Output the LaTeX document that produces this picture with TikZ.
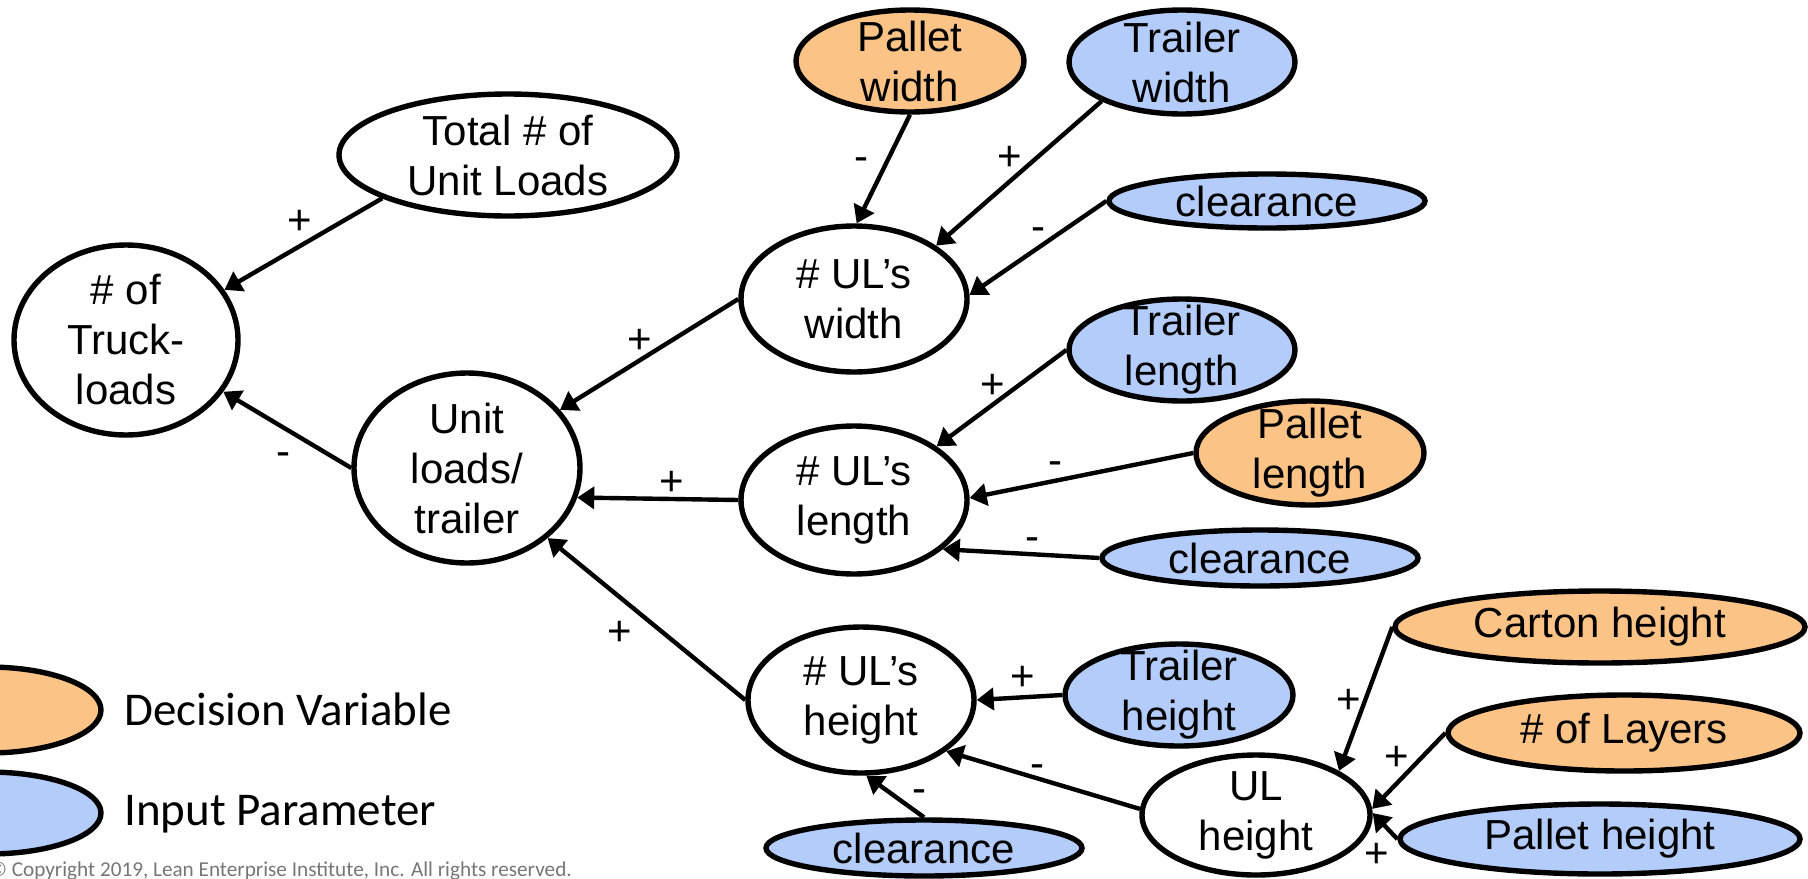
\documentclass[tikz,border=0pt]{standalone}
\usepackage{fontspec}
\setmainfont{Liberation Sans}
\newfontfamily\legendfont{Carlito}
\usetikzlibrary{shapes.geometric,arrows.meta}

\definecolor{dvfill}{RGB}{252,195,134}
\definecolor{ipfill}{RGB}{180,204,250}
\definecolor{notegray}{RGB}{118,118,118}

\tikzset{
  var/.style={ellipse, draw=black, line width=2.7pt, inner sep=0pt, fill=white},
  dv/.style={var, fill=dvfill},
  ip/.style={var, fill=ipfill},
  sz/.style 2 args={minimum width=#1pt, minimum height=#2pt},
  lbl/.style={align=center, font=\fontsize{21}{25}\selectfont, inner sep=0pt},
  link/.style={line width=2.2pt, -{Triangle[length=8.5pt,width=11pt]}},
  sign/.style={font=\fontsize{21}{25}\selectfont, inner sep=0pt, anchor=base},
  legtext/.style={font=\legendfont\fontsize{23.5}{28}\selectfont, inner sep=0pt, anchor=west},
}

\begin{document}
\begin{tikzpicture}[x=0.5pt,y=-0.5pt]
\useasboundingbox (0,0) rectangle (1808,878);
\clip (0,0) rectangle (1808,878);

% result and intermediate quantities
\node[var, sz={169}{61}, label={[lbl]center:Total \# of\\Unit Loads}] (total) at (508,155) {};
\node[var, sz={112}{95}, label={[lbl]center:\# of\\Truck-\\loads}] (truck) at (126,340) {};
\node[var, sz={113}{95}, label={[lbl]center:Unit\\loads/\\trailer}] (ult) at (467,468) {};
\node[var, sz={113}{73}, label={[lbl]center:\# UL’s\\width}] (ulw) at (854,299) {};
\node[var, sz={113}{74}, label={[lbl]center:\# UL’s\\length}] (ull) at (854,500) {};
\node[var, sz={113}{73}, label={[lbl]center:\# UL’s\\height}] (ulh) at (861,700) {};
\node[var, sz={114}{60}, label={[lbl]center:UL\\height}] (ulht) at (1256,815) {};

% decision variables and input parameters
\node[dv, sz={114}{51}, label={[lbl]center:Pallet\\width}] (pw) at (910,61) {};
\node[ip, sz={113}{52}, label={[lbl]center:Trailer\\width}] (tw) at (1182,62) {};
\node[ip, sz={158}{27}, label={[lbl]center:clearance}] (clw) at (1267,201) {};
\node[ip, sz={113}{51}, label={[lbl]center:Trailer\\length}] (tl) at (1182,350) {};
\node[dv, sz={114}{52}, label={[lbl]center:Pallet\\length}] (pl) at (1310,453) {};
\node[ip, sz={158}{28}, label={[lbl]center:clearance}] (cll) at (1260,558) {};
\node[dv, sz={205}{36}, label={[lbl]center:Carton height}] (ch) at (1600,627) {};
\node[ip, sz={114}{51}, label={[lbl]center:Trailer\\height}] (th) at (1179,695) {};
\node[dv, sz={176}{38}, label={[lbl]center:\# of Layers}] (nl) at (1624,733) {};
\node[ip, sz={200}{35}, label={[lbl]center:Pallet height}] (ph) at (1600,839) {};
\node[ip, sz={158}{28}, label={[lbl]center:clearance}] (clh) at (924,848) {};

% influence arrows
\draw[link] (total.199) -- (truck.27);
\draw[link] (ult.180) -- (truck.-28);
\draw[link] (ulw.180) -- (ult.32);
\draw[link] (ull.180) -- (ult.-15);
\draw[link] (ulh.180) -- (ult.-41);
\draw[link] (pw.270) -- (ulw.88);
\draw[link] (tw.206) -- (ulw.33);
\draw[link] (clw.180) -- (ulw.2);
\draw[link] (tl.180) -- (ull.33);
\draw[link] (pl.180) -- (ull.1);
\draw[link] (cll.180) -- (ull.-29);
\draw[link] (th.180) -- (ulh.0);
\draw[link] (ulht.177) -- (ulh.-31);
\draw[link] (clh.90) -- (ulh.-86);
\draw[link] (ch.180) -- (ulht.28);
\draw[link] (nl.180) -- (ulht.3);
\draw[link] (ph.180) -- (ulht.1);

% signs of the influences
\node[sign] (s1) at (300,234) {+};
\node[sign] (s2) at (283,465) {-};
\node[sign] (s3) at (640,353) {+};
\node[sign] (s4) at (672,495) {+};
\node[sign] (s5) at (620,645) {+};
\node[sign] (s6) at (861,170) {-};
\node[sign] (s7) at (1010,170) {+};
\node[sign] (s8) at (1038,240) {-};
\node[sign] (s9) at (993,398) {+};
\node[sign] (s10) at (1055,474) {-};
\node[sign] (s11) at (1032,550) {-};
\node[sign] (s12) at (1023,690) {+};
\node[sign] (s13) at (1037,777) {-};
\node[sign] (s14) at (919,802) {-};
\node[sign] (s15) at (1349,713) {+};
\node[sign] (s16) at (1397,770) {+};
\node[sign] (s17) at (1377,867) {+};

% legend
\node[dv, sz={113}{43}] (ldv) at (-12,710) {};
\node[ip, sz={113}{41}] (lip) at (-12,813) {};
\node[legtext] (ldvt) at (124,709) {Decision Variable};
\node[legtext] (lipt) at (124,814) {Input Parameter};

\node[anchor=base west, inner sep=0pt, text=notegray,
      font=\legendfont\fontsize{10.6}{12}\selectfont] (copy) at (-11,876)
  {© Copyright 2019, Lean Enterprise Institute, Inc. All rights reserved.};
\end{tikzpicture}
\end{document}
